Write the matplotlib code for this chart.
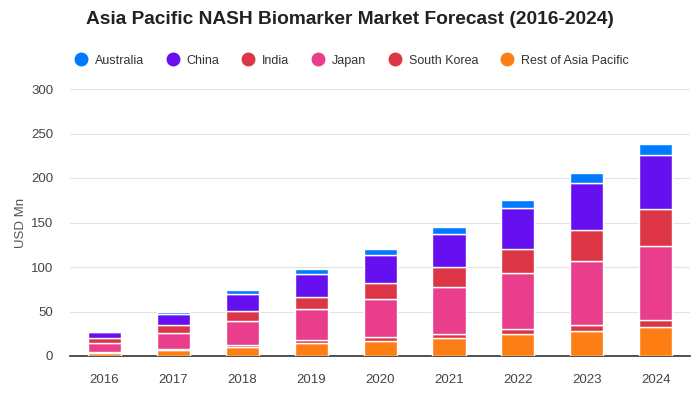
import numpy as np
import matplotlib.pyplot as plt
from matplotlib.lines import Line2D

plt.rcParams['font.family'] = ['Liberation Sans', 'DejaVu Sans']

# ── Data (USD Mn) ──────────────────────────────────────────────────────────────
years = ['2016', '2017', '2018', '2019', '2020', '2021', '2022', '2023', '2024']
rest_apac   = [3.7, 7.0, 10.1, 14.6, 17.2, 20.2, 24.7, 28.1, 32.2]
south_korea = [0.8, 1.0, 2.0, 3.0, 3.8, 5.0, 5.6, 7.0, 7.9]
japan       = [10.0, 18.0, 27.3, 34.8, 43.5, 52.5, 62.9, 71.9, 83.1]
india       = [5.3, 9.0, 10.9, 14.3, 18.0, 22.5, 27.0, 34.8, 41.6]
china       = [7.0, 12.7, 19.8, 25.8, 31.5, 36.6, 45.6, 52.8, 60.7]
australia   = [0.6, 1.5, 3.8, 4.8, 6.0, 8.6, 9.0, 10.8, 12.7]

# stacking order bottom -> top
stack = [
    ('Rest of Asia Pacific', rest_apac,   '#fd7e14'),
    ('South Korea',          south_korea, '#dc3545'),
    ('Japan',                japan,       '#e83e8c'),
    ('India',                india,       '#dc3545'),
    ('China',                china,       '#6610f2'),
    ('Australia',            australia,   '#007bff'),
]
legend_order = ['Australia', 'China', 'India', 'Japan', 'South Korea',
                'Rest of Asia Pacific']

# ── Figure ─────────────────────────────────────────────────────────────────────
fig = plt.figure(figsize=(7, 4), dpi=100)
ax = fig.add_axes([0.1, 0.11, 0.886, 0.6675])

x = np.arange(len(years))
bottom = np.zeros(len(years))
colors = {}
for name, vals, col in stack:
    vals = np.array(vals)
    ax.bar(x, vals, bottom=bottom, width=0.48, color=col,
           edgecolor='white', linewidth=1.0, zorder=3)
    bottom += vals
    colors[name] = col

ax.set_xlim(-0.5, len(years) - 0.5)
ax.set_ylim(0, 300)
ax.set_yticks(np.arange(0, 301, 50))
ax.set_xticks(x)
ax.set_xticklabels(years)
ax.grid(axis='y', color='#e3e3e3', linewidth=0.8, zorder=0)
ax.tick_params(axis='y', length=0, labelsize=9.5, colors='#444444', pad=12)
ax.tick_params(axis='x', length=0, labelsize=9.5, colors='#444444', pad=13)
for side in ['top', 'right', 'left']:
    ax.spines[side].set_visible(False)
ax.spines['bottom'].set_color('#333333')
ax.spines['bottom'].set_linewidth(1.2)
ax.set_ylabel('USD Mn', fontsize=9.5, color='#555555', labelpad=3)

fig.text(0.5, 0.952, 'Asia Pacific NASH Biomarker Market Forecast (2016-2024)',
         ha='center', va='center', fontsize=13.8, fontweight='bold',
         color='#222222')

handles = [Line2D([], [], marker='o', linestyle='none', markersize=9,
                  markerfacecolor=colors[n], markeredgecolor=colors[n])
           for n in legend_order]
fig.legend(handles, legend_order, loc='center left',
           bbox_to_anchor=(0.107, 0.848), ncol=6, frameon=False,
           fontsize=9, handlelength=1.0, handletextpad=0.6,
           columnspacing=1.8, borderpad=0, borderaxespad=0,
           labelcolor='#333333')

fig.savefig('out.png', dpi=100, facecolor='white')
